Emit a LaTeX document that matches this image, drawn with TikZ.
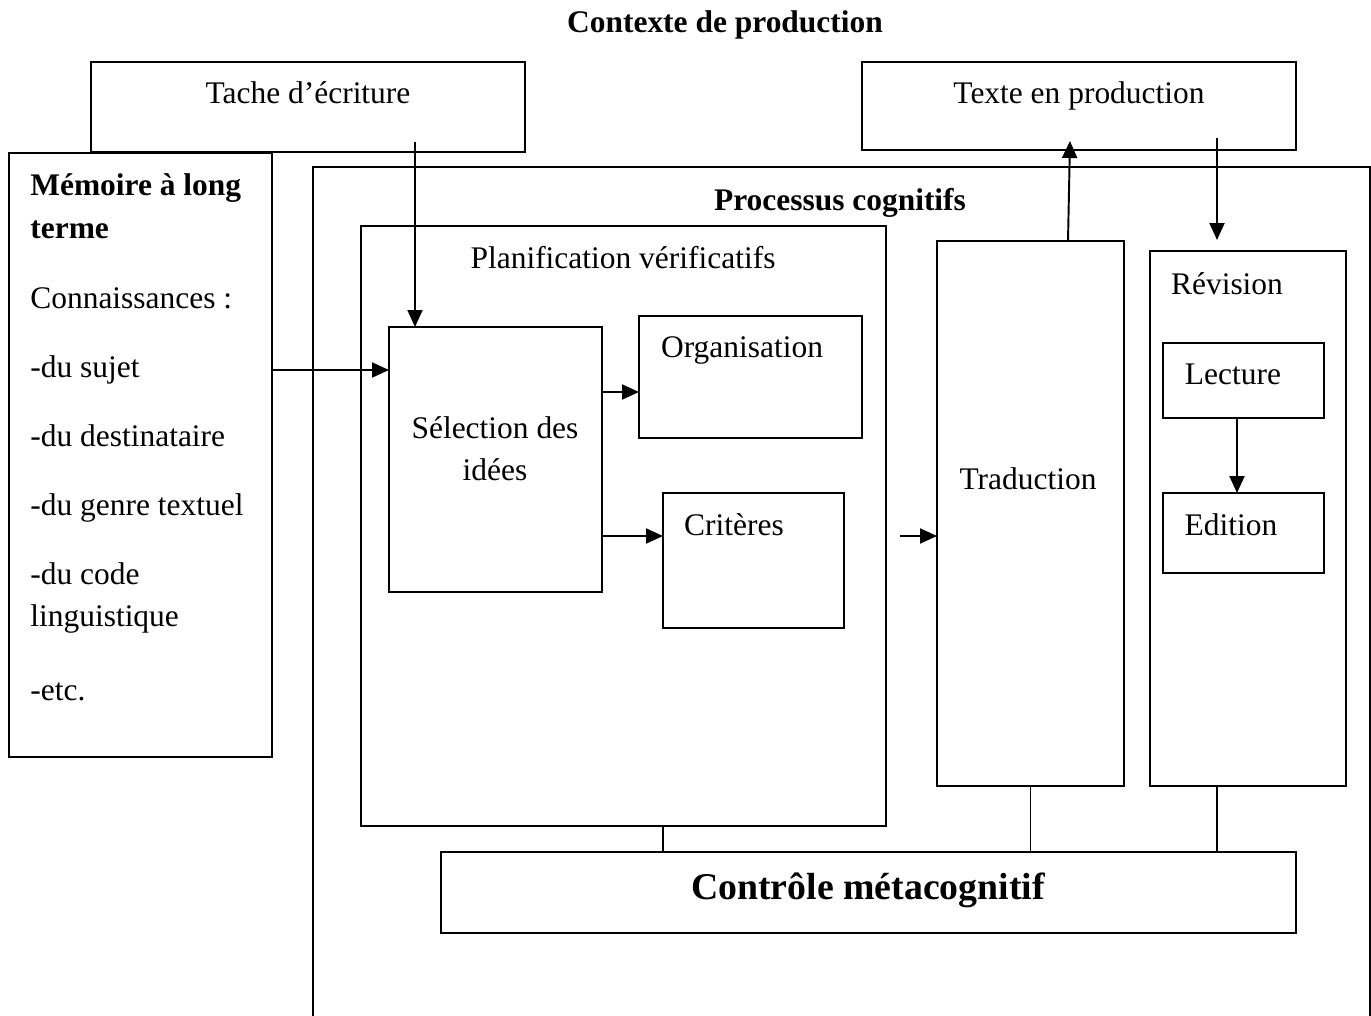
\documentclass[tikz,border=0pt]{standalone}
\usepackage{fontspec}
\setmainfont{Liberation Serif}
\usetikzlibrary{arrows.meta,positioning,fit}
\newcommand{\txtsize}{\fontsize{17.9}{23.8}\selectfont}
\tikzset{
  box/.style={draw, line width=1pt, inner sep=0pt, outer sep=0pt},
  lbl/.style={font=\txtsize, inner sep=0pt, anchor=base},
  con/.style={-{Triangle[length=3.4mm,width=3mm]}, line width=1.1pt},
  tie/.style={line width=0.6pt},
}

\begin{document}
\begin{tikzpicture}[x=0.2mm,y=-0.2mm]
  \useasboundingbox (0,0) rectangle (1371,1016);
  % boxes
  \node[box, fit={(91,62) (525,152)}] (tache) {};
  \node[box, fit={(862,62) (1296,150)}] (texte) {};
  \node[box, fit={(9,153) (272,757)}] (mem) {};
  \node[box, fit={(313,167) (1370,1040)}] (proc) {};
  \node[box, fit={(361,226) (886,826)}] (plan) {};
  \node[box, fit={(389,327) (602,592)}] (sel) {};
  \node[box, fit={(639,316) (862,438)}] (org) {};
  \node[box, fit={(663,493) (844,628)}] (crit) {};
  \node[box, fit={(937,241) (1124,786)}] (trad) {};
  \node[box, fit={(1150,251) (1346,786)}] (rev) {};
  \node[box, fit={(1163,343) (1324,418)}] (lect) {};
  \node[box, fit={(1163,493) (1324,573)}] (edit) {};
  \node[box, line width=1.2pt, fit={(441,852) (1296,933)}] (ctrl) {};

  % texts
  \node[lbl, font=\txtsize\bfseries] (titre) at (725,33) {Contexte de production};
  \node[lbl] (tacheT) at (308,104) {Tache d’écriture};
  \node[lbl] (texteT) at (1079,104) {Texte en production};
  \node[lbl, anchor=north west, align=left] (memT) at (30,173)
   {\textbf{Mémoire à long}\\[1pt]
    \textbf{terme}\\[15.6pt]
    Connaissances :\\[15.6pt]
    -du sujet\\[15.6pt]
    -du destinataire\\[15.6pt]
    -du genre textuel\\[15.6pt]
    -du code\\[0pt]
    linguistique\\[18pt]
    -etc.};
  \node[lbl, font=\txtsize\bfseries] (procT) at (840,210) {Processus cognitifs};
  \node[lbl] (planT) at (623,268) {Planification vérificatifs};
  \node[lbl, align=center, anchor=north] (selT) at (495,416) {Sélection des\\idées};
  \node[lbl] (orgT) at (742,357) {Organisation};
  \node[lbl] (critT) at (734,535) {Critères};
  \node[lbl] (tradT) at (1028,489) {Traduction};
  \node[lbl] (revT) at (1227,294) {Révision};
  \node[lbl] (lectT) at (1233,384) {Lecture};
  \node[lbl] (editT) at (1231,535) {Edition};
  \node[lbl, font=\fontsize{21.5}{24}\selectfont\bfseries] (ctrlT) at (868,899) {Contrôle métacognitif};

  % connectors
  \coordinate (tA) at (415,142);
  \coordinate (mA) at (272,370);
  \coordinate (sO) at (602,392);
  \coordinate (sC) at (602,536);
  \coordinate (tB) at (900,536);
  \coordinate (tU) at (1068,241);
  \coordinate (tV) at (1070,141);
  \coordinate (rA) at (1217,138);
  \coordinate (lA) at (1237,418);
  \coordinate (pA) at (663,826);
  \coordinate (rB) at (1217,786);
  \draw[con] (tA) -- (tA |- sel.north);
  \draw[con] (mA) -- (mA -| sel.west);
  \draw[con] (sO) -- (sO -| org.west);
  \draw[con] (sC) -- (sC -| crit.west);
  \draw[con] (tB) -- (tB -| trad.west);
  \draw[con] (tU) -- (tV);
  \draw[con] (rA) -- ([yshift=2.2mm]rA |- rev.north);
  \draw[con] (lA) -- (lA |- edit.north);
  \draw[tie] (pA) -- (pA |- ctrl.north);
  \draw[tie] (trad.south) -- (trad.south |- ctrl.north);
  \draw[tie] (rB) -- (rB |- ctrl.north);
\end{tikzpicture}
\end{document}
